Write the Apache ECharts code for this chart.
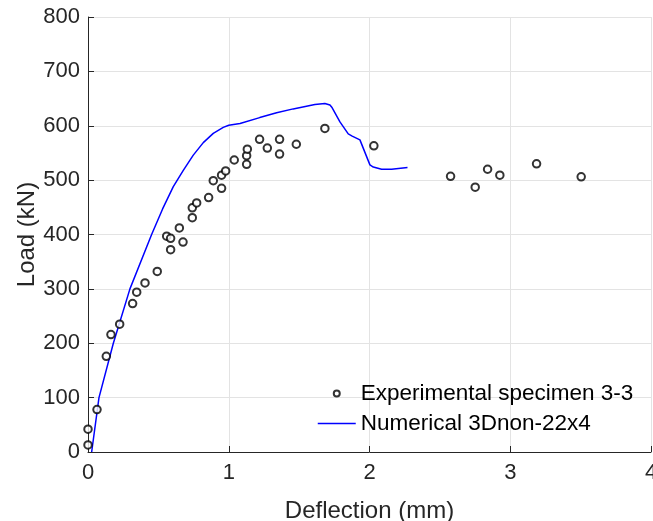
<!DOCTYPE html>
<html>
<head>
<meta charset="utf-8">
<script src="https://cdn.jsdelivr.net/npm/echarts@6/dist/echarts.min.js"></script>
<style>
html,body{margin:0;padding:0;background:#fff;}
#chart{width:653px;height:521px;}
</style>
</head>
<body>
<div id="chart"></div>
<script>
// Experimental specimen 3-3 (deflection mm, load kN)
var expX = [0.00, 0.00, 0.064, 0.13, 0.163, 0.225, 0.317, 0.346, 0.405, 0.492, 0.559, 0.587, 0.587, 0.649, 0.675, 0.741, 0.741, 0.772, 0.857, 0.890, 0.949, 0.949, 0.978, 1.039, 1.127, 1.127, 1.132, 1.219, 1.274, 1.361, 1.361, 1.480, 1.683, 2.031, 2.576, 2.751, 2.839, 2.926, 3.187, 3.504];
var expY = [13, 42, 78, 176, 216, 235, 273, 294, 311, 332, 397, 393, 372, 412, 386, 431, 449, 458, 468, 499, 485, 509, 517, 537, 529, 545, 557, 575, 559, 575, 548, 566, 595, 563, 507, 487, 520, 509, 530, 506];
// Numerical 3Dnon-22x4
var numX = [0.026, 0.078, 0.18, 0.298, 0.452, 0.53, 0.606, 0.677, 0.748, 0.819, 0.890, 0.961, 1.0, 1.08, 1.22, 1.34, 1.458, 1.612, 1.683, 1.719, 1.735, 1.79, 1.849, 1.877, 1.932, 2.003, 2.027, 2.086, 2.157, 2.27];
var numY = [0, 100, 200, 300, 400, 447, 488, 518, 546, 569, 586, 597, 601, 604, 615, 624, 631, 639, 641, 638, 633, 607, 585, 581, 574, 528, 524, 520, 520, 523];
var seriesNames = ['Experimental specimen 3-3', 'Numerical 3Dnon-22x4'];
var xTitle = 'Deflection (mm)';
var yTitle = 'Load (kN)';

var expData = expX.map(function (x, i) { return [x, expY[i]]; });
var numData = numX.map(function (x, i) { return [x, numY[i]]; });

var font = 'Liberation Sans, Arial, Helvetica, sans-serif';
var txt = '#262626';

var chart = echarts.init(document.getElementById('chart'));
chart.setOption({
  animation: false,
  backgroundColor: '#ffffff',
  grid: { left: 88, right: 2, top: 17, bottom: 69, containLabel: false, outerBoundsMode: 'none' },
  xAxis: {
    type: 'value', min: 0, max: 4, interval: 1,
    name: xTitle, nameLocation: 'middle', nameGap: 47,
    nameTextStyle: { fontFamily: font, fontSize: 24, color: txt },
    axisLine: { show: true, onZero: false, lineStyle: { color: txt, width: 1 } },
    axisTick: { show: true, inside: true, length: 6, lineStyle: { color: txt } },
    axisLabel: { fontFamily: font, fontSize: 22, color: txt, margin: 10, hideOverlap: false },
    splitLine: { show: true, lineStyle: { color: '#e3e3e3', width: 1 } }
  },
  yAxis: {
    type: 'value', min: 0, max: 800, interval: 100,
    name: yTitle, nameLocation: 'middle', nameGap: 49, nameMoveOverlap: false,
    nameTextStyle: { fontFamily: font, fontSize: 24, color: txt },
    axisLine: { show: true, onZero: false, lineStyle: { color: txt, width: 1 } },
    axisTick: { show: true, inside: true, length: 6, lineStyle: { color: txt } },
    axisLabel: { fontFamily: font, fontSize: 22, color: txt, margin: 8 },
    splitLine: { show: true, lineStyle: { color: '#e3e3e3', width: 1 } }
  },
  legend: {
    orient: 'vertical', left: 317, top: 382, padding: 0,
    itemWidth: 38, itemHeight: 6, itemGap: 7,
    textStyle: { fontFamily: font, fontSize: 22.5, color: '#000' },
    data: [
      { name: seriesNames[0], icon: 'emptyCircle', itemStyle: { color: '#000', borderColor: '#000', borderWidth: 1 } },
      { name: seriesNames[1], itemStyle: { opacity: 0 }, lineStyle: { color: '#0000ff', width: 1.5 } }
    ]
  },
  series: [
    {
      name: seriesNames[0], type: 'scatter', data: expData,
      symbol: 'emptyCircle', symbolSize: 7.5,
      itemStyle: { color: '#000', borderColor: '#000', borderWidth: 1 },
      z: 3
    },
    {
      name: seriesNames[1], type: 'line', data: numData,
      symbol: 'none', showSymbol: false, smooth: false,
      lineStyle: { color: '#0000ff', width: 1.5 },
      itemStyle: { color: '#0000ff' },
      z: 2
    }
  ]
});
</script>
</body>
</html>
